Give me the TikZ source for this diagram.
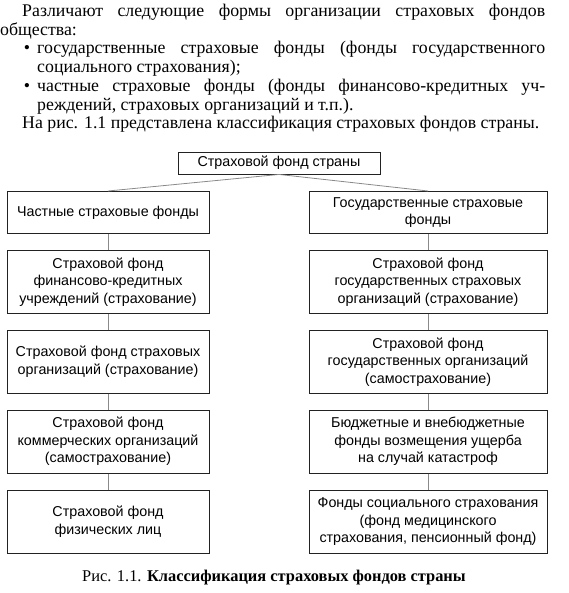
\documentclass[tikz,border=0pt]{standalone}
\usepackage{fontspec}
\setmainfont{Liberation Serif}
\newfontfamily\schemefont{Liberation Sans}
\usetikzlibrary{positioning}
\definecolor{sfLine}{HTML}{222222}
\definecolor{sfLink}{HTML}{8A8A8A}
\tikzset{
  fundbox/.style={rectangle, draw=sfLine, line width=0.9pt, fill=white,
    align=center, font=\schemefont\fontsize{14.3}{17.5}\selectfont, inner sep=2pt},
  fundLeft/.style={fundbox, minimum width=202pt, minimum height=63pt},
  fundRight/.style={fundbox, minimum width=238pt, minimum height=63pt},
  fundlink/.style={sfLink, line width=0.8pt}
}

\begin{document}
\begin{tikzpicture}[x=1pt, y=-1pt, node distance=16pt]
\useasboundingbox (0,0) rectangle (568,593);
% text above the scheme
\node[anchor=north west, text width=545pt, align=justify, inner sep=0pt,
  font=\fontsize{17.8}{18.7}\selectfont] (intro) at (0,4) {%
  \hspace*{22pt}Различают следующие формы организации страховых фондов\linebreak
  общества:\par
  {\leftskip=37pt\noindent\llap{•\hspace{7pt}}государственные страховые фонды (фонды государственного\linebreak
  социального страхования);\par}
  {\leftskip=37pt\noindent\llap{•\hspace{7pt}}частные страховые фонды (фонды финансово-кредитных уч-\linebreak
  реждений, страховых организаций и т.п.).\par}
  \hspace*{22pt}На рис. 1.1 представлена классификация страховых фондов страны.};
% scheme
\node[fundbox, minimum width=202pt, minimum height=22pt] (root) at (279,163) {Страховой фонд страны};
% private funds
\node[fundLeft, minimum height=42pt, anchor=north] (priv) at (108,191) {Частные страховые фонды};
\node[fundLeft, below=of priv] (priv1) {Страховой фонд\\финансово-кредитных\\учреждений (страхование)};
\node[fundLeft, below=of priv1] (priv2) {Страховой фонд страховых\\организаций (страхование)};
\node[fundLeft, below=of priv2] (priv3) {Страховой фонд\\коммерческих организаций\\(самострахование)};
\node[fundLeft, below=of priv3] (priv4) {Страховой фонд\\физических лиц};
% state funds
\node[fundRight, minimum height=42pt, anchor=north] (state) at (428,191) {Государственные страховые\\фонды};
\node[fundRight, below=of state] (state1) {Страховой фонд\\государственных страховых\\организаций (страхование)};
\node[fundRight, below=of state1] (state2) {Страховой фонд\\государственных организаций\\(самострахование)};
\node[fundRight, below=of state2] (state3) {Бюджетные и внебюджетные\\фонды возмещения ущерба\\на случай катастроф};
\node[fundRight, below=of state3] (state4) {Фонды социального страхования\\(фонд медицинского\\страхования, пенсионный фонд)};
\draw[fundlink] (root.south) -- (priv.north);
\draw[fundlink] (root.south) -- (state.north);
\foreach \a/\b in {priv/priv1, priv1/priv2, priv2/priv3, priv3/priv4,
  state/state1, state1/state2, state2/state3, state3/state4}
  \draw[fundlink] (\a) -- (\b);
% caption
\node[font=\fontsize{16.4}{18}\selectfont] (caption) at (274,578) {Рис. 1.1. \textbf{Классификация страховых фондов страны}};
\end{tikzpicture}
\end{document}
